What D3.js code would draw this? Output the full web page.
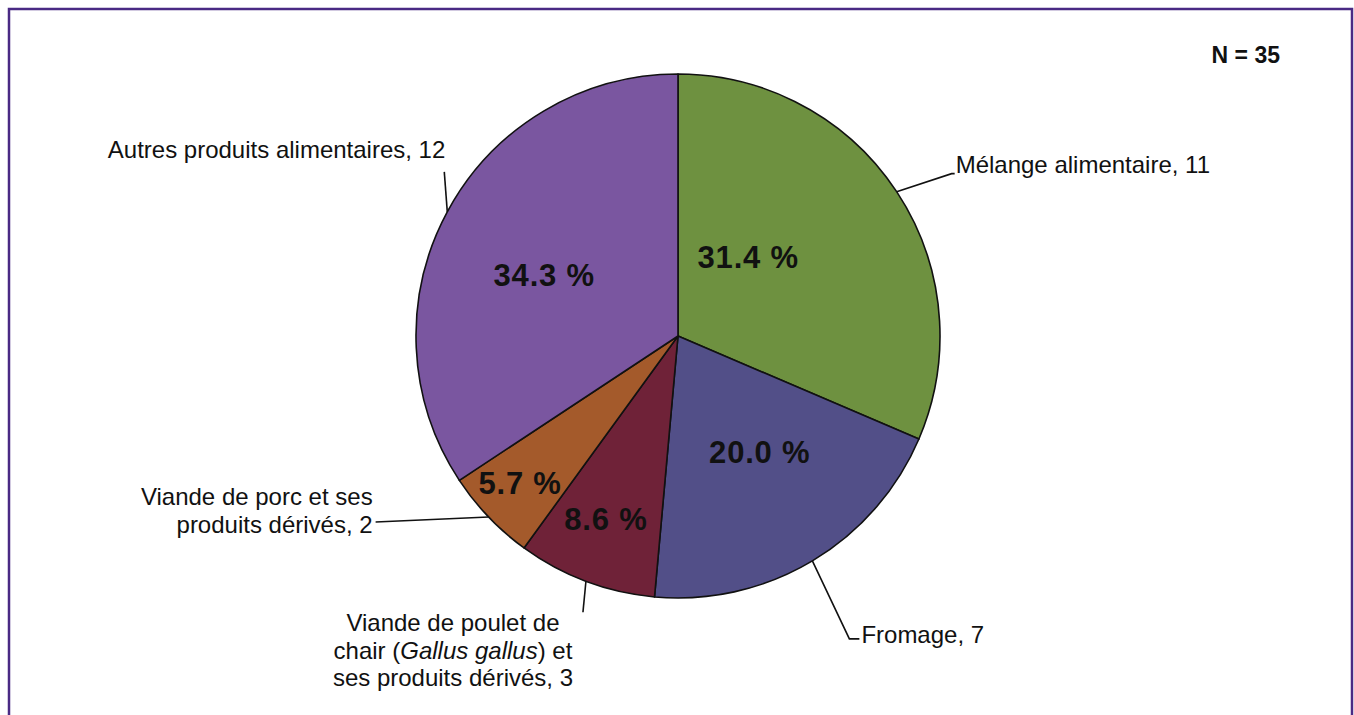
<!DOCTYPE html>
<html>
<head>
<meta charset="utf-8">
<script src="https://cdn.jsdelivr.net/npm/d3@7/dist/d3.min.js"></script>
<style>
  html, body { margin: 0; padding: 0; background: #fff; }
  svg { display: block; font-family: "Liberation Sans", Arial, Helvetica, sans-serif; }
</style>
</head>
<body>
<svg id="chart" width="1354" height="715"></svg>
<script>
// Food categories, counts and slice colours (clockwise from 12 o'clock)
const categories = [
  "Mélange alimentaire",
  "Fromage",
  "Viande de poulet de chair (Gallus gallus) et ses produits dérivés",
  "Viande de porc et ses produits dérivés",
  "Autres produits alimentaires"
];
const counts = [11, 7, 3, 2, 12];
const sliceColors = ["#6e9140", "#524f88", "#6f2238", "#a45a2b", "#7a56a0"];
const totalN = 35;

// Callout text lines; each line is a list of [text, italic] runs
const calloutLines = [
  [[["Mélange alimentaire, 11", false]]],
  [[["Fromage, 7", false]]],
  [
    [["Viande de poulet de", false]],
    [["chair (", false], ["Gallus gallus", true], [") et", false]],
    [["ses produits dérivés, 3", false]]
  ],
  [
    [["Viande de porc et ses", false]],
    [["produits dérivés, 2", false]]
  ],
  [[["Autres produits alimentaires, 12", false]]]
];

// ---- layout ----
const W = 1354, H = 715;
const cx = 678, cy = 336, R = 262;

// leader line: bend offset from rim point, horizontal stub, text anchor offset from line end
const leaderLayout = [
  { bend: [55, -18], stub: 3,   text: [1, -1],    anchor: "start",  lineH: 27.5 },
  { bend: [37, 78],  stub: 10,  text: [2, 4],     anchor: "start",  lineH: 27.5 },
  { bend: [-3, 31],  stub: 0,   text: [-130, 19], anchor: "middle", lineH: 27.5 },
  { bend: [-113, 5], stub: 0,   text: [-3, -17],  anchor: "end",    lineH: 27.5 },
  { bend: [-3, -40], stub: 0,   text: [1, -14],   anchor: "end",    lineH: 27.5 }
];
// percentage label placement: angle nudge (degrees) and distance from centre
const pctLayout = [
  { nudge: -14.6, r: 105 },
  { nudge: -4.3,  r: 142 },
  { nudge: 0.9,   r: 197 },
  { nudge: 0.7,   r: 216 },
  { nudge: -3.8,  r: 147 }
];

const svg = d3.select("#chart");

// frame
svg.append("rect")
  .attr("x", 9).attr("y", 9)
  .attr("width", 1343).attr("height", 730)
  .attr("fill", "none")
  .attr("stroke", "#4a2a84")
  .attr("stroke-width", 2.5);

const data = categories.map((c, i) => ({ name: c, value: counts[i], color: sliceColors[i], i }));

const pie = d3.pie().value(d => d.value).sort(null);
const arcs = pie(data);
const arc = d3.arc().innerRadius(0).outerRadius(R);

const g = svg.append("g").attr("transform", `translate(${cx},${cy})`);

g.selectAll("path.slice")
  .data(arcs)
  .join("path")
  .attr("class", "slice")
  .attr("d", arc)
  .attr("fill", d => d.data.color)
  .attr("stroke", "#111")
  .attr("stroke-width", 1.6)
  .attr("stroke-linejoin", "round");

const fmt = d3.format(".1f");
const polar = (a, r) => [r * Math.sin(a), -r * Math.cos(a)];

// percentage labels
g.selectAll("text.pct")
  .data(arcs)
  .join("text")
  .attr("class", "pct")
  .each(function(d, i) {
    const mid = (d.startAngle + d.endAngle) / 2 + pctLayout[i].nudge * Math.PI / 180;
    const [x, y] = polar(mid, pctLayout[i].r);
    d3.select(this).attr("x", x).attr("y", y);
  })
  .attr("text-anchor", "middle")
  .attr("dominant-baseline", "central")
  .attr("font-weight", "bold")
  .attr("font-size", 31)
  .attr("letter-spacing", 0.8)
  .attr("fill", "#111")
  .text(d => fmt(d.data.value / totalN * 100) + " %");

// leader lines and callout labels
arcs.forEach((d, i) => {
  const L = leaderLayout[i];
  const mid = (d.startAngle + d.endAngle) / 2;
  const [x0, y0] = polar(mid, R);
  const x1 = x0 + L.bend[0], y1 = y0 + L.bend[1];
  const x2 = x1 + L.stub, y2 = y1;
  g.append("path")
    .attr("d", d3.line()([[x0, y0], [x1, y1], [x2, y2]]))
    .attr("fill", "none")
    .attr("stroke", "#111")
    .attr("stroke-width", 1.6);

  const t = g.append("text")
    .attr("text-anchor", L.anchor)
    .attr("font-size", 24)
    .attr("fill", "#111");
  const tx = x2 + L.text[0], ty = y2 + L.text[1];
  calloutLines[i].forEach((line, li) => {
    line.forEach((run, ri) => {
      const ts = t.append("tspan").text(run[0]);
      if (ri === 0) ts.attr("x", tx).attr("y", ty + li * L.lineH);
      if (run[1]) ts.attr("font-style", "italic");
    });
  });
});

// sample size
svg.append("text")
  .attr("x", 1280).attr("y", 63)
  .attr("text-anchor", "end")
  .attr("font-weight", "bold")
  .attr("font-size", 23)
  .attr("fill", "#111")
  .text("N = " + totalN);
</script>
</body>
</html>
